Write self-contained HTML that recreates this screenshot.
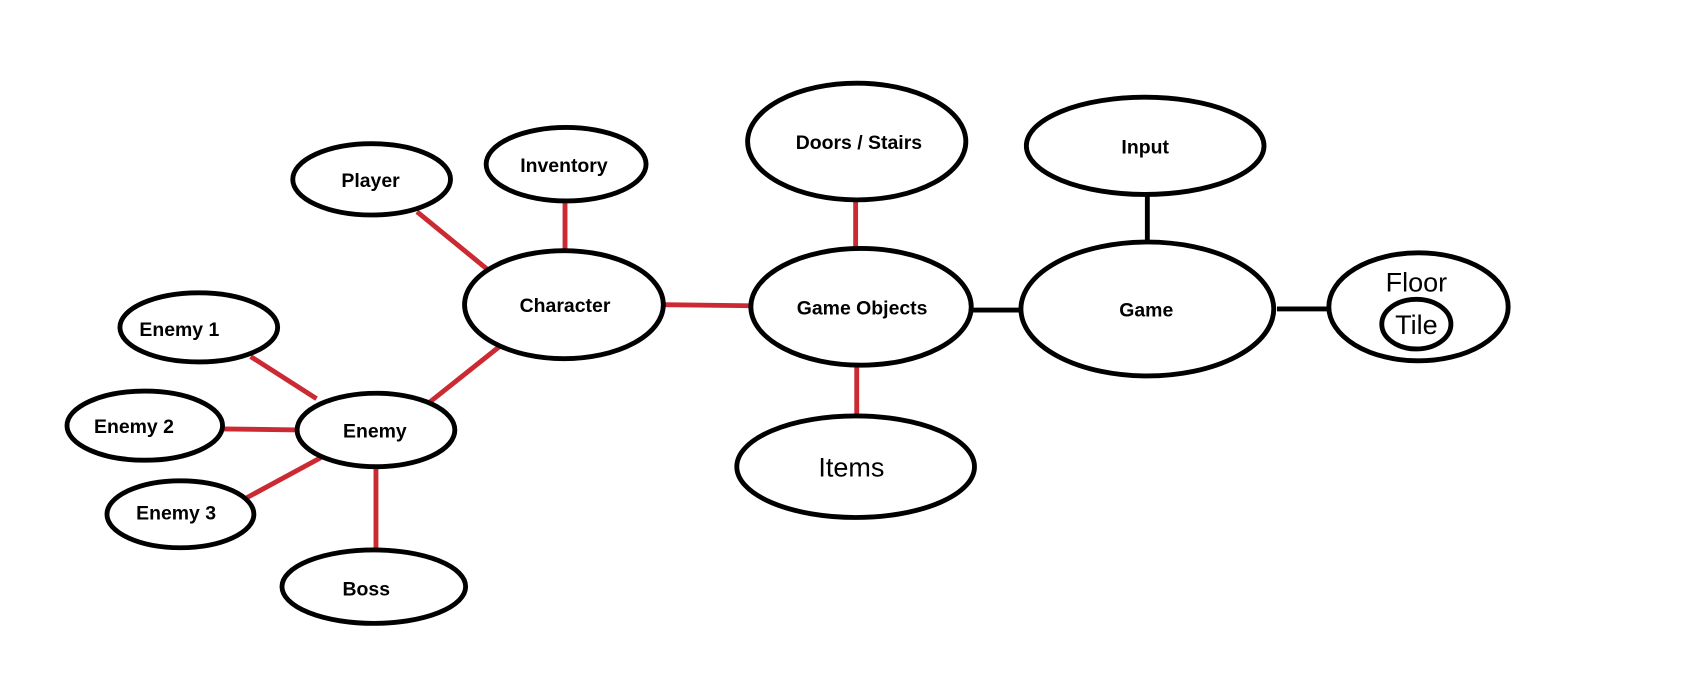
<!DOCTYPE html>
<html><head><meta charset="utf-8"><style>html,body{margin:0;padding:0;background:#fff;}svg{display:block}</style></head>
<body>
<svg width="1694" height="695" viewBox="0 0 1568 643.3" xmlns="http://www.w3.org/2000/svg">
<rect width="1568" height="644" fill="#fff"/>
<g stroke="#cc2a32" stroke-width="4.5" fill="none">
<line x1="386" y1="196" x2="452" y2="250"/>
<line x1="523" y1="188" x2="523" y2="231"/>
<line x1="614" y1="282" x2="695" y2="283"/>
<line x1="462" y1="321" x2="398" y2="372"/>
<line x1="232" y1="330" x2="293" y2="369"/>
<line x1="206" y1="397" x2="276" y2="398"/>
<line x1="226" y1="462" x2="300" y2="422"/>
<line x1="348" y1="432" x2="348" y2="508"/>
<line x1="792" y1="185" x2="792" y2="230"/>
<line x1="793" y1="338" x2="793" y2="385"/>
</g>
<g stroke="#000" stroke-width="4.5" fill="none">
<line x1="898" y1="287" x2="945" y2="287"/>
<line x1="1062" y1="180" x2="1062" y2="224"/>
<line x1="1182" y1="286" x2="1230" y2="286"/>
</g>
<g stroke="#000" stroke-width="4.5" fill="#fff">
<ellipse cx="344" cy="166" rx="73" ry="33"/>
<ellipse cx="524" cy="152" rx="74" ry="34"/>
<ellipse cx="793" cy="131" rx="101" ry="54"/>
<ellipse cx="1060" cy="135" rx="110" ry="45"/>
<ellipse cx="522" cy="282" rx="92" ry="50"/>
<ellipse cx="797" cy="284" rx="102" ry="54"/>
<ellipse cx="1062" cy="286" rx="117" ry="62"/>
<ellipse cx="1313" cy="284" rx="83" ry="50"/>
<ellipse cx="1311" cy="300" rx="32" ry="23"/>
<ellipse cx="184" cy="303" rx="73" ry="32"/>
<ellipse cx="134" cy="394" rx="72" ry="32"/>
<ellipse cx="348" cy="398" rx="73" ry="34"/>
<ellipse cx="167" cy="476" rx="68" ry="31"/>
<ellipse cx="346" cy="543" rx="85" ry="34"/>
<ellipse cx="792" cy="432" rx="110" ry="47"/>
</g>
<g font-family="Liberation Sans, sans-serif" font-weight="bold" font-size="18" text-anchor="middle" fill="#000">
<text x="343" y="173">Player</text>
<text x="522" y="159">Inventory</text>
<text x="795" y="138">Doors / Stairs</text>
<text x="1060" y="142">Input</text>
<text x="523" y="289">Character</text>
<text x="798" y="291">Game Objects</text>
<text x="1061" y="293">Game</text>
<text x="166" y="311">Enemy 1</text>
<text x="124" y="401">Enemy 2</text>
<text x="347" y="405">Enemy</text>
<text x="163" y="481">Enemy 3</text>
<text x="339" y="551">Boss</text>
</g>
<g font-family="Liberation Sans, sans-serif" font-size="25" text-anchor="middle" fill="#000">
<text x="788" y="441">Items</text>
<text x="1311" y="270">Floor</text>
<text x="1311" y="309">Tile</text>
</g>
</svg>
</body></html>
